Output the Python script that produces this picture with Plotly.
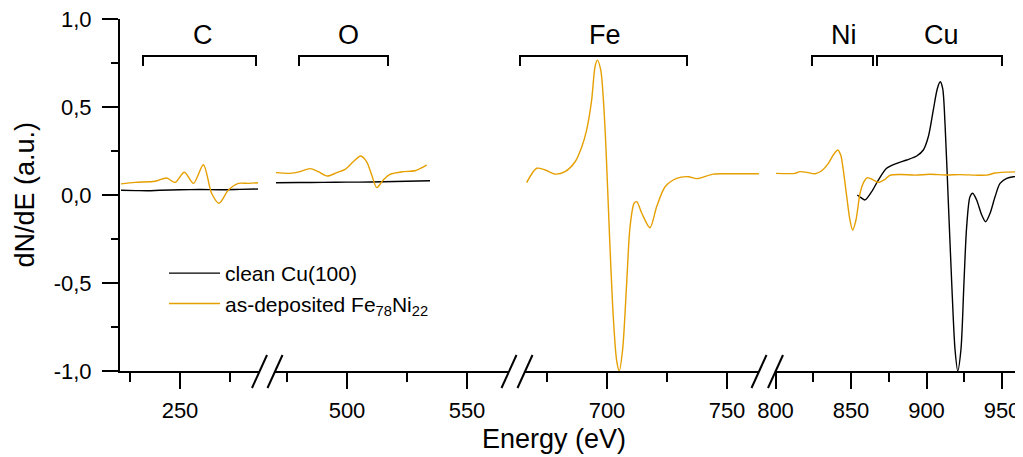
import plotly.graph_objects as go

FONT = "Liberation Sans, Arial, sans-serif"
BLACK = "#000000"
ORANGE = "#E69F00"

# ---------------- data (energy in eV, dN/dE in a.u.) ----------------
# C region
clean_C_E = [220.5, 228, 234, 240, 250, 260, 270, 280, 289]
clean_C_v = [0.027, 0.025, 0.024, 0.027, 0.030, 0.031, 0.030, 0.032, 0.034]
dep_C_E = [220.5, 227.5, 237.5, 243.3, 247.5, 252.2, 256.7, 261.7, 265.8,
           269.5, 274.2, 279.2, 284.2, 289]
dep_C_v = [0.063, 0.072, 0.078, 0.097, 0.072, 0.129, 0.066, 0.172, 0.010,
           -0.047, 0.028, 0.066, 0.066, 0.070]

# O region
clean_O_E = [470.4, 480, 490, 500, 510, 520, 534.6]
clean_O_v = [0.070, 0.071, 0.072, 0.073, 0.074, 0.077, 0.081]
dep_O_E = [470.4, 476.3, 480.4, 484.6, 488.0, 491.8, 495.7, 499.2, 502.6,
           505.7, 508.2, 510.3, 512.4, 515.1, 517.9, 523.5, 528.3, 533.2]
dep_O_v = [0.127, 0.123, 0.133, 0.150, 0.133, 0.108, 0.127, 0.146, 0.189,
           0.222, 0.189, 0.114, 0.042, 0.085, 0.117, 0.133, 0.138, 0.170]

# Fe region
dep_Fe_E = [666.5, 670.7, 674.2, 678.3, 682.5, 686.7, 689.5, 691.5, 693.6,
            695.0, 696.0, 697.4, 698.5, 699.6, 701.0, 702.6, 704.0, 705.1,
            706.5, 708.2, 709.6, 711.3, 712.4, 714.5, 717.9, 720.7, 724.2,
            729.0, 733.9, 737.4, 744.3, 751.3, 763.3]
dep_Fe_v = [0.070, 0.152, 0.142, 0.119, 0.133, 0.189, 0.275, 0.369, 0.540,
            0.729, 0.767, 0.710, 0.540, 0.256, -0.218, -0.690, -0.940, -1.000,
            -0.880, -0.500, -0.180, -0.047, -0.038, -0.104, -0.186, -0.066, 0.047,
            0.095, 0.104, 0.093, 0.119, 0.121, 0.121]

# Ni / Cu region
clean_Cu_E = [854.2, 856.6, 859.3, 863.7, 868.1, 873.6, 880.3, 886.9, 893.5,
              897.9, 901.2, 904.5, 907.2, 909.1, 910.7, 912.3, 914.4, 916.7,
              918.9, 920.7, 922.8, 924.8, 926.6, 928.8, 930.6, 933.2, 936.6,
              939.2, 942.1, 945.4, 948.7, 953.1, 957.5, 960.8]
clean_Cu_v = [0.000, -0.015, -0.028, 0.019, 0.085, 0.152, 0.180, 0.199, 0.222,
              0.256, 0.331, 0.483, 0.606, 0.644, 0.606, 0.400, -0.028, -0.500,
              -0.880, -1.000, -0.880, -0.500, -0.180, -0.010, 0.010, -0.028, -0.114,
              -0.152, -0.104, -0.010, 0.066, 0.095, 0.104, 0.104]
dep_NiCu_E = [800.3, 812.9, 816.2, 820.7, 826.2, 830.6, 835.0, 838.7, 841.2,
              843.2, 844.9, 847.2, 849.3, 851.1, 853.3, 856.0, 858.6, 860.9,
              864.8, 868.1, 872.5, 875.8, 882.5, 892.4, 902.3, 912.3, 922.2,
              932.1, 940.0, 945.4, 952.0, 961.2]
dep_NiCu_v = [0.123, 0.123, 0.133, 0.129, 0.121, 0.138, 0.180, 0.233, 0.256,
              0.227, 0.142, -0.010, -0.142, -0.199, -0.142, 0.010, 0.076, 0.099,
              0.085, 0.072, 0.089, 0.112, 0.117, 0.113, 0.118, 0.114, 0.116,
              0.113, 0.113, 0.125, 0.130, 0.132]

# axis segments
seg_ranges = [[220, 289.75], [470, 567.5], [665.83, 763.33], [800, 961.26]]
major_ticks = [[250], [500, 550], [700, 750], [800, 850, 900, 950]]
minor_ticks = [[225, 275], [475, 525], [675, 725], [825, 875, 925]]
y_ticks = [-1.0, -0.5, 0.0, 0.5, 1.0]
y_ticktext = ["-1,0", "-0,5", "0,0", "0,5", "1,0"]
y_minor = [-0.75, -0.25, 0.25, 0.75]

# element labels: (label, bracket left px, bracket right px, label centre px)
elements = [("C", 143, 256, 203), ("O", 299, 388, 348), ("Fe", 520, 687, 605),
            ("Ni", 812, 873, 844), ("Cu", 877, 1002, 941)]

# ---------------- layout geometry (page pixels) ----------------
PAGE_W, PAGE_H = 1023, 457
BODY = 8  # default page body margin around the figure div
W, H = PAGE_W - BODY, PAGE_H - BODY
L, R, T, B = 120, 1019, 19, 371
seg_px = [[120, 259.5], [275, 509], [525, 759], [775.5, 1019]]


def fx(px):
    return (px - L) / (R - L)


def fy(py):
    return (B - py) / (B - T)


fig = go.Figure()

clean = [(clean_C_E, clean_C_v, "x"), (clean_O_E, clean_O_v, "x2"),
         (clean_Cu_E, clean_Cu_v, "x4")]
dep = [(dep_C_E, dep_C_v, "x"), (dep_O_E, dep_O_v, "x2"),
       (dep_Fe_E, dep_Fe_v, "x3"), (dep_NiCu_E, dep_NiCu_v, "x4")]

for i, (e, v, ax) in enumerate(clean):
    fig.add_trace(go.Scatter(x=e, y=v, xaxis=ax, yaxis="y", mode="lines",
                             line=dict(color=BLACK, width=1.4, shape="spline", smoothing=0.8),
                             name="clean Cu(100)", legendgroup="clean",
                             showlegend=(i == 0), hoverinfo="skip"))
for i, (e, v, ax) in enumerate(dep):
    fig.add_trace(go.Scatter(x=e, y=v, xaxis=ax, yaxis="y", mode="lines",
                             line=dict(color=ORANGE, width=1.4, shape="spline", smoothing=0.8),
                             name="as-deposited Fe<sub>78</sub>Ni<sub>22</sub>",
                             legendgroup="dep", showlegend=(i == 0), hoverinfo="skip"))

axis_common = dict(showline=True, linecolor=BLACK, linewidth=2, ticks="outside",
                   ticklen=16, tickwidth=2, tickcolor=BLACK, showgrid=False,
                   zeroline=False, tickfont=dict(family=FONT, size=22, color=BLACK),
                   anchor="y", tickmode="array", ticklabelstandoff=3,
                   ticklabeloverflow="allow", automargin=False)

layout_axes = {}
for k in range(4):
    name = "xaxis" if k == 0 else f"xaxis{k + 1}"
    layout_axes[name] = dict(
        axis_common,
        domain=[fx(seg_px[k][0]), fx(seg_px[k][1])],
        range=seg_ranges[k],
        tickvals=major_ticks[k],
        ticktext=[str(t) for t in major_ticks[k]],
        minor=dict(tickmode="array", tickvals=minor_ticks[k], ticks="outside",
                   ticklen=9, tickwidth=2, tickcolor=BLACK, showgrid=False),
    )

fig.update_layout(
    width=W, height=H, autosize=False,
    margin=dict(l=L - BODY, r=PAGE_W - R, t=T - BODY, b=PAGE_H - B, pad=0,
                autoexpand=False),
    paper_bgcolor="white", plot_bgcolor="white",
    font=dict(family=FONT, color=BLACK),
    yaxis=dict(showline=True, linecolor=BLACK, linewidth=2, ticks="outside",
               ticklen=16, tickwidth=2, tickcolor=BLACK, showgrid=False,
               zeroline=False, range=[-1.001, 1.001], anchor="x", domain=[0, 1],
               tickmode="array", tickvals=y_ticks, ticktext=y_ticktext,
               tickfont=dict(family=FONT, size=22, color=BLACK), ticklabelstandoff=6,
               ticklabeloverflow="allow", automargin=False,
               minor=dict(tickmode="array", tickvals=y_minor, ticks="outside",
                          ticklen=7, tickwidth=2, tickcolor=BLACK, showgrid=False)),
    legend=dict(x=fx(164), y=fy(253), xanchor="left", yanchor="top",
                bgcolor="rgba(0,0,0,0)", font=dict(family=FONT, size=21, color=BLACK),
                itemwidth=51, tracegroupgap=0),
    showlegend=True,
    **layout_axes,
)

shapes = []
# axis breaks
for k in range(3):
    for cx in (seg_px[k][1], seg_px[k + 1][0]):
        shapes.append(dict(type="line", xref="paper", yref="paper",
                           x0=fx(cx - 7.5), y0=fy(388), x1=fx(cx + 7.5), y1=fy(355),
                           line=dict(color=BLACK, width=2)))
# element brackets
annotations = []
for lab, x0, x1, xc in elements:
    path = (f"M {fx(x0)},{fy(66)} L {fx(x0)},{fy(56)} "
            f"L {fx(x1)},{fy(56)} L {fx(x1)},{fy(66)}")
    shapes.append(dict(type="path", xref="paper", yref="paper", path=path,
                       line=dict(color=BLACK, width=2)))
    annotations.append(dict(text=lab, xref="paper", yref="paper", x=fx(xc), y=fy(35),
                            xanchor="center", yanchor="middle", showarrow=False,
                            font=dict(family=FONT, size=27, color=BLACK)))

# axis titles
annotations.append(dict(text="Energy (eV)", xref="paper", yref="paper",
                        x=fx(553.5), y=fy(439), xanchor="center", yanchor="middle",
                        showarrow=False, font=dict(family=FONT, size=27, color=BLACK)))
annotations.append(dict(text="dN/dE (a.u.)", xref="paper", yref="paper",
                        x=fx(24.5), y=fy(195), xanchor="center", yanchor="middle",
                        textangle=-90, showarrow=False,
                        font=dict(family=FONT, size=27, color=BLACK)))

fig.update_layout(shapes=shapes, annotations=annotations)
fig.write_html("out.html")
